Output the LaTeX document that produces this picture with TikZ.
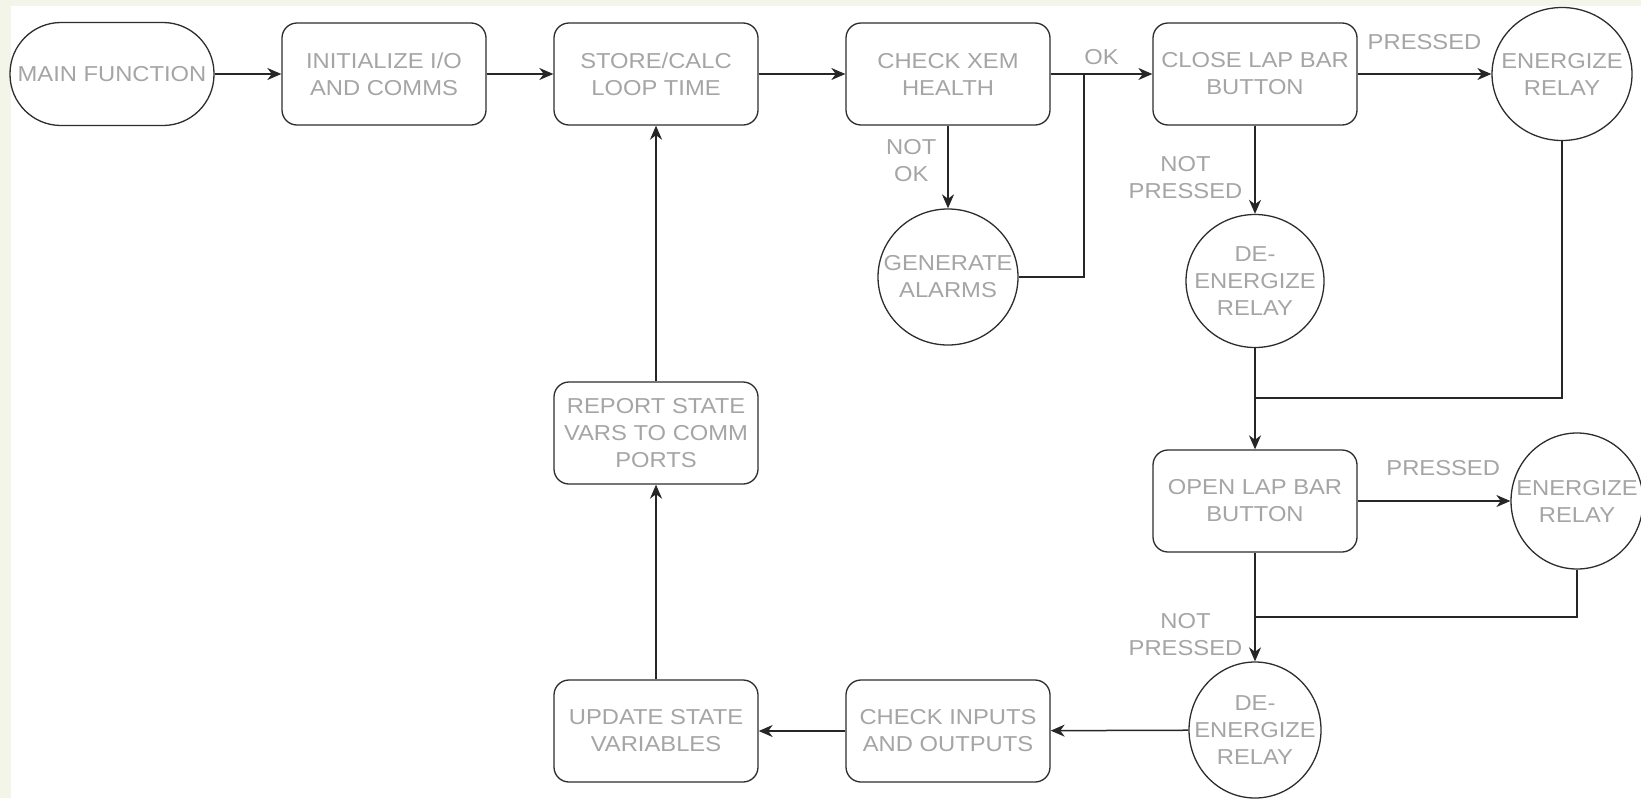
\documentclass[tikz,border=0pt]{standalone}
\usepackage{fontspec}
\setmainfont{Liberation Sans}[FakeStretch=1.1]
\usepackage{xcolor}
\usepackage{tikz}
\usetikzlibrary{arrows.meta,positioning,calc,shapes.geometric}
\definecolor{edgebg}{RGB}{243,245,232}
\definecolor{labelgray}{RGB}{165,165,165}
\definecolor{strokegray}{RGB}{45,45,45}
\tikzset{
  stepbox/.style={draw=strokegray, line width=0.65pt, rounded corners=7.5pt, fill=white,
    minimum width=102pt, minimum height=51pt, inner sep=1pt, align=center,
    text=labelgray, font=\fontsize{10.8}{13.5}\selectfont},
  termbox/.style={stepbox, rounded corners=25.5pt, minimum height=51.5pt},
  relay/.style={draw=strokegray, line width=0.65pt, ellipse, inner sep=0pt, fill=white},
  relaytext/.style={text=labelgray, align=center, inner sep=0pt, font=\fontsize{10.8}{13.5}\selectfont},
  flow/.style={draw=black!85, line width=0.75pt, -{Stealth[length=7pt,width=6pt,inset=2.2pt]}},
  wire/.style={draw=black!85, line width=0.75pt},
  cond/.style={text=labelgray, align=center, inner sep=0pt, font=\fontsize{10.8}{13.5}\selectfont},
}
\newcommand{\RelayNode}[6]{%
  \node[relay, minimum width=#4, minimum height=#5, label={[relaytext]center:{#6}}] (#1) at (#2,#3) {};
}

\begin{document}
\begin{tikzpicture}[x=0.5pt, y=-0.5pt]
  \fill[edgebg] (0,0) rectangle (1641,798);
  \fill[white] (11,6) rectangle (1641,798);
  \useasboundingbox (0,0) rectangle (1641,798);

  \node[termbox] (main) at (112,74) {MAIN FUNCTION};
  \node[stepbox] (init) at (384,74) {INITIALIZE I/O\\AND COMMS};
  \node[stepbox] (store) at (656,74) {STORE/CALC\\LOOP TIME};
  \node[stepbox] (xem) at (948,74) {CHECK XEM\\HEALTH};
  \node[stepbox] (close) at (1255,74) {CLOSE LAP BAR\\BUTTON};
  \RelayNode{closeon}{1562}{74}{70pt}{66.5pt}{ENERGIZE\\RELAY}
  \RelayNode{alarms}{948}{277}{70pt}{68pt}{GENERATE\\ALARMS}
  \RelayNode{closeoff}{1255}{281}{69pt}{66.5pt}{DE-\\ENERGIZE\\RELAY}
  \node[stepbox] (open) at (1255,501) {OPEN LAP BAR\\BUTTON};
  \RelayNode{openon}{1577}{501}{66pt}{68pt}{ENERGIZE\\RELAY}
  \RelayNode{openoff}{1255}{730}{66pt}{68pt}{DE-\\ENERGIZE\\RELAY}
  \node[stepbox] (io) at (948,731) {CHECK INPUTS\\AND OUTPUTS};
  \node[stepbox] (update) at (656,731) {UPDATE STATE\\VARIABLES};
  \node[stepbox] (report) at (656,433) {REPORT STATE\\VARS TO COMM\\PORTS};

  \draw[flow] (main) -- (init);
  \draw[flow] (init) -- (store);
  \draw[flow] (store) -- (xem);
  \draw[flow] (xem) -- node[cond, above=4.5pt] (ok) {OK} (close);
  \draw[flow] (xem) -- node[cond, pos=.42, left=5.5pt] (notok) {NOT\\OK} (alarms);
  \coordinate (okjoin) at (1084,74);
  \draw[wire] (alarms) -| (okjoin);
  \draw[flow] (close) -- node[cond, above=12pt] (pressa) {PRESSED} (closeon);
  \draw[flow] (close) -- node[cond, pos=.59, left=6pt] (notpressa) {NOT\\PRESSED} (closeoff);
  \coordinate (joina) at (1255,398);
  \draw[wire] (closeon) |- (joina);
  \draw[flow] (closeoff) -- (open);
  \draw[flow] (open) -- node[cond, pos=.56, above=12.5pt] (pressb) {PRESSED} (openon);
  \draw[flow] (open) -- node[cond, pos=.75, left=6pt] (notpressb) {NOT\\PRESSED} (openoff);
  \coordinate (joinb) at (1255,617);
  \draw[wire] (openon) |- (joinb);
  \draw[flow] (openoff) -- (io);
  \draw[flow] (io) -- (update);
  \draw[flow] (update) -- (report);
  \draw[flow] (report) -- (store);
\end{tikzpicture}
\end{document}
